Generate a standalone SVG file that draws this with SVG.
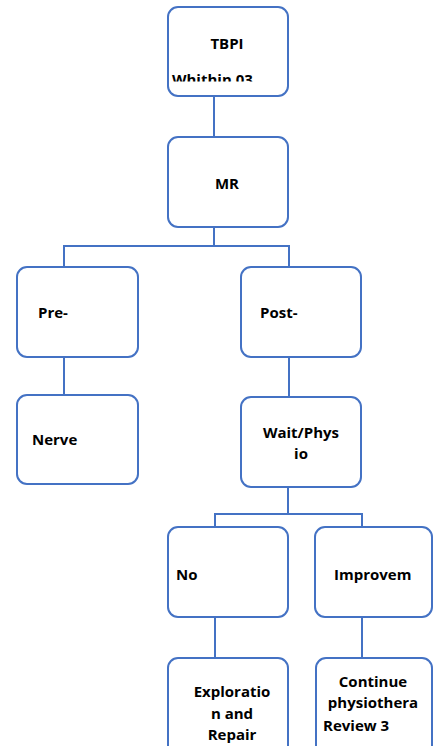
<svg xmlns="http://www.w3.org/2000/svg" width="433" height="746" viewBox="0 0 433 746">
<style>
.box{fill:#fff;stroke:#4472C4;stroke-width:2}
.ln{fill:none;stroke:#4472C4;stroke-width:2}
text{font-family:"Open Sans",Lato,"Liberation Sans",sans-serif;font-weight:bold;font-size:15px;fill:#000}
.m{text-anchor:middle}
</style>
<defs>
<clipPath id="c1"><rect x="168" y="60" width="120" height="21.5"/></clipPath>
</defs>
<rect width="433" height="746" fill="#fff"/>
<g id="connectors">
<path class="ln" d="M214 96V137"/>
<path class="ln" d="M214 227V246H64V267M214 246H289V267"/>
<path class="ln" d="M64 357V395"/>
<path class="ln" d="M289 357V397"/>
<path class="ln" d="M288 487V514H215V527M288 514H362V527"/>
<path class="ln" d="M215 617V658"/>
<path class="ln" d="M362 617V658"/>
</g>
<g id="n1"><rect class="box" x="168" y="7" width="120" height="89" rx="10"/><text class="m" x="227" y="49">TBPI</text><text x="172" y="85" clip-path="url(#c1)">Whithin 03</text></g>
<g id="n2"><rect class="box" x="168" y="137" width="120" height="90" rx="10"/><text class="m" x="227" y="189">MR</text></g>
<g id="n3"><rect class="box" x="17" y="267" width="121" height="90" rx="10"/><text x="38" y="318">Pre-</text></g>
<g id="n4"><rect class="box" x="241" y="267" width="120" height="90" rx="10"/><text x="260" y="318">Post-</text></g>
<g id="n5"><rect class="box" x="17" y="395" width="121" height="89" rx="10"/><text x="32" y="445">Nerve</text></g>
<g id="n6"><rect class="box" x="241" y="397" width="120" height="90" rx="10"/><text class="m" x="301" y="438">Wait/Phys</text><text class="m" x="301" y="459">io</text></g>
<g id="n7"><rect class="box" x="168" y="527" width="120" height="90" rx="10"/><text x="176" y="580">No</text></g>
<g id="n8"><rect class="box" x="315" y="527" width="117" height="90" rx="10"/><text x="334" y="580">Improvem</text></g>
<g id="n9"><rect class="box" x="168" y="658" width="120" height="100" rx="10"/><text class="m" x="232" y="697">Exploratio</text><text class="m" x="232" y="719">n and</text><text class="m" x="232" y="740">Repair</text></g>
<g id="n10"><rect class="box" x="316" y="658" width="116" height="100" rx="10"/><text class="m" x="373" y="687">Continue</text><text class="m" x="373" y="708">physiothera</text><text x="323" y="731">Review 3</text></g>
</svg>
